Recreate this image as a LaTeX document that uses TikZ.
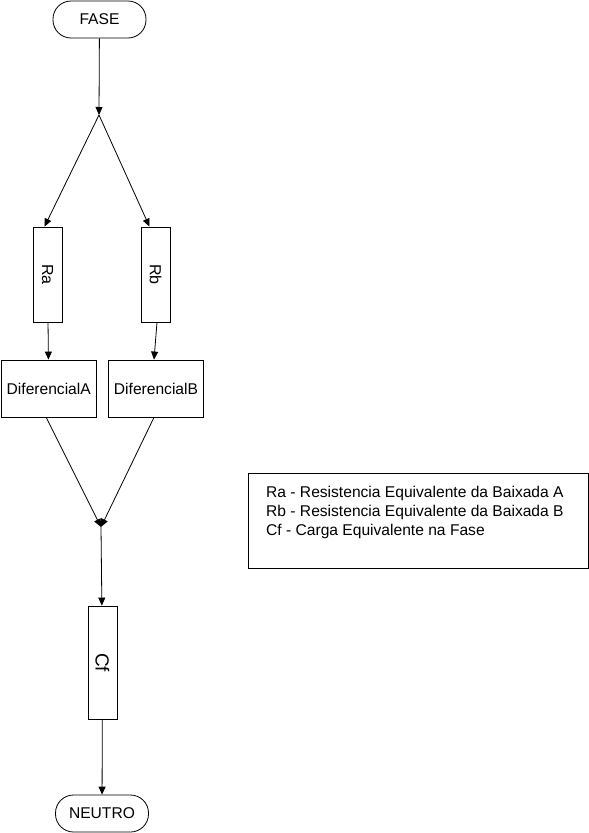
\documentclass[tikz,border=0pt]{standalone}
\usepackage{fontspec}
\setmainfont{Liberation Sans}
\usetikzlibrary{arrows.meta,positioning}
\tikzset{
  term/.style={rectangle,rounded corners=18pt,draw=black,line width=.8pt,minimum width=93pt,minimum height=37pt,inner sep=0pt,font=\fontsize{15.6}{18}\selectfont},
  res/.style={rectangle,draw=black,line width=.8pt,minimum width=29pt,minimum height=95pt,inner sep=0pt},
  dif/.style={rectangle,draw=black,line width=.8pt,minimum width=95pt,minimum height=57pt,inner sep=0pt,font=\fontsize{15.6}{18}\selectfont},
  vt/.style={rotate=-90,font=\fontsize{16}{18}\selectfont},
  lnk/.style={draw=black,line width=.8pt},
  fl/.style={-{Triangle[length=8pt,width=7pt]},line width=.8pt,draw=black},
  leg/.style={rectangle,draw=black,line width=.8pt},
  lb/.style={font=\fontsize{15.6}{19}\selectfont,align=left,inner sep=0pt},
}

\begin{document}
\begin{tikzpicture}[x=1pt,y=-1pt]
\useasboundingbox (0,0) rectangle (589,833);
% ---- fase e ramos
\node[term] (fase) at (99.5,19.5) {FASE};
\coordinate (j1) at (99,115);
\node[res] (ra) at (47.5,274.5) {};
\node[vt] at (ra.center) {Ra};
\node[res] (rb) at (155.5,274.5) {};
\node[vt] at (rb.center) {Rb};
\node[dif] (da) at (48.75,388.5) {DiferencialA};
\node[dif] (db) at (156,388.5) {DiferencialB};
\draw[fl] (fase) -- (j1);
\draw[fl] (j1) -- ([xshift=-3pt]ra.north);
\draw[fl] (j1) -- ([xshift=-6pt]rb.north);
\draw[fl] (ra) -- (da);
\draw[fl] ([xshift=1.5pt]rb.south) -- ([xshift=-2pt]db.north);
% ---- retorno pelo neutro
\coordinate (j2) at (101,527);
\node[res,minimum height=113pt] (cf) at (102.5,662.5) {};
\node[vt,font=\fontsize{19}{22}\selectfont] at (cf.center) {Cf};
\node[term] (neutro) at (102,813.5) {NEUTRO};
\draw[fl] ([xshift=-2.5pt]da.south) -- (j2);
\draw[fl] ([xshift=-2pt]db.south) -- (j2);
\draw[fl] (j2) -- (cf);
\draw[fl] (cf) -- (neutro);
% ---- legenda
\node[leg,minimum width=340pt,minimum height=95pt] (lg) at (418,520.5) {};
\node[lb,anchor=west] (lgt) at (266,512)
  {Ra - Resistencia Equivalente da Baixada A\\
   Rb - Resistencia Equivalente da Baixada B\\
   Cf - Carga Equivalente na Fase};
\end{tikzpicture}
\end{document}
